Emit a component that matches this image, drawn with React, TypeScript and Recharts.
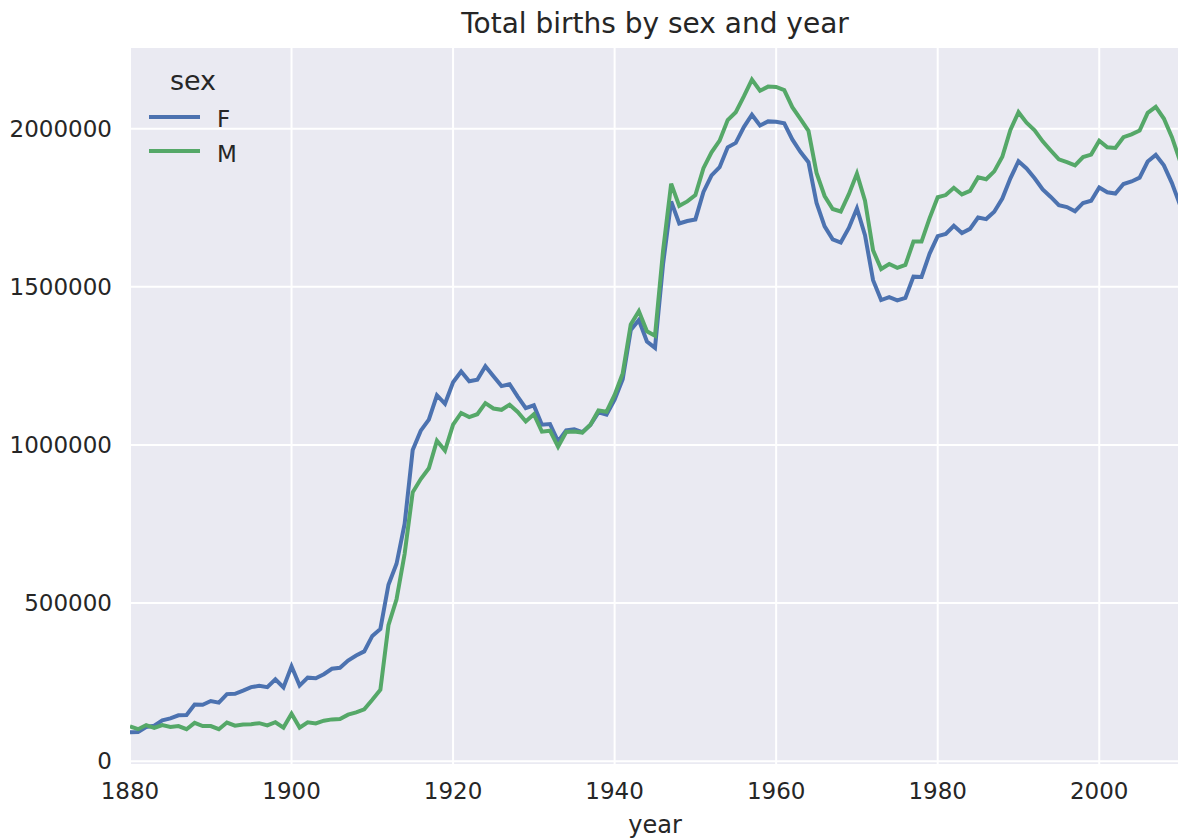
import React from "react";
import { LineChart, Line, CartesianGrid, XAxis, YAxis, Label } from "recharts";

// total births, 1880..2010 (one value per year)
const startYear = 1880;

const femaleBirths = [
  91000, 92000, 108000, 112000, 129000, 135000, 145000, 146000, 179000, 178000,
  190000, 185000, 212000, 213000, 223000, 234000, 238000, 234000, 259000, 233000,
  300000, 239000, 264000, 262000, 275000, 292000, 295000, 318000, 334000, 347000,
  396000, 418000, 558000, 624000, 750000, 984000, 1045000, 1080000, 1157000, 1130000,
  1198000, 1232000, 1201000, 1206000, 1249000, 1217000, 1186000, 1192000, 1153000, 1116000,
  1125000, 1064000, 1066000, 1011000, 1046000, 1049000, 1040000, 1063000, 1103000, 1096000,
  1143000, 1208000, 1363000, 1395000, 1327000, 1307000, 1572000, 1770000, 1700000, 1708000,
  1713000, 1800000, 1852000, 1878000, 1941000, 1955000, 2005000, 2044000, 2010000, 2023000,
  2022000, 2017000, 1966000, 1927000, 1894000, 1765000, 1691000, 1650000, 1640000, 1686000,
  1748000, 1663000, 1521000, 1458000, 1467000, 1457000, 1465000, 1532000, 1531000, 1605000,
  1660000, 1667000, 1693000, 1670000, 1683000, 1719000, 1714000, 1737000, 1779000, 1843000,
  1897000, 1874000, 1843000, 1808000, 1784000, 1758000, 1752000, 1739000, 1765000, 1772000,
  1814000, 1799000, 1795000, 1825000, 1833000, 1845000, 1896000, 1917000, 1884000, 1828000,
  1759000,
];

const maleBirths = [
  110000, 101000, 114000, 105000, 114000, 108000, 111000, 101000, 121000, 111000,
  111000, 101000, 122000, 112000, 116000, 117000, 120000, 113000, 123000, 106000,
  150000, 106000, 123000, 119000, 128000, 132000, 133000, 147000, 154000, 164000,
  194000, 226000, 430000, 512000, 655000, 850000, 892000, 926000, 1013000, 982000,
  1064000, 1101000, 1088000, 1097000, 1132000, 1115000, 1111000, 1127000, 1104000, 1074000,
  1097000, 1042000, 1045000, 994000, 1041000, 1042000, 1039000, 1064000, 1109000, 1105000,
  1158000, 1226000, 1381000, 1423000, 1359000, 1345000, 1614000, 1826000, 1756000, 1770000,
  1790000, 1875000, 1925000, 1962000, 2027000, 2052000, 2102000, 2155000, 2120000, 2133000,
  2132000, 2122000, 2068000, 2031000, 1993000, 1860000, 1787000, 1746000, 1738000, 1793000,
  1858000, 1772000, 1615000, 1556000, 1572000, 1560000, 1569000, 1643000, 1643000, 1717000,
  1783000, 1790000, 1813000, 1792000, 1803000, 1846000, 1840000, 1865000, 1911000, 1996000,
  2052000, 2019000, 1995000, 1960000, 1931000, 1903000, 1894000, 1884000, 1910000, 1918000,
  1962000, 1941000, 1939000, 1973000, 1982000, 1994000, 2050000, 2069000, 2032000, 1973000,
  1898000,
];

const seriesNames = ["F", "M"];
const xTicks = [1880, 1900, 1920, 1940, 1960, 1980, 2000];
const yTicks = [0, 500000, 1000000, 1500000, 2000000];

const data = femaleBirths.map((f, i) => ({
  year: startYear + i,
  F: f,
  M: maleBirths[i],
}));

const FONT = "'DejaVu Sans', sans-serif";
const TEXT = "#262626";
const BLUE = "#4C72B0";
const GREEN = "#55A868";
const colors = [BLUE, GREEN];

const XTick = (props: any) => (
  <text x={props.x} y={props.y} dy={26} textAnchor="middle" fontFamily={FONT} fontSize={23} fill={TEXT}>
    {props.payload.value}
  </text>
);

const YTick = (props: any) => (
  <text x={props.x} y={props.y} dx={-10} dy={8} textAnchor="end" fontFamily={FONT} fontSize={23} fill={TEXT}>
    {String(props.payload.value)}
  </text>
);

// seaborn-style legend box in the upper left of the axes
const LegendBox = () => (
  <svg width={130} height={130} style={{ position: "absolute", left: 130, top: 47 }}>
    <text x={63} y={43} textAnchor="middle" fontFamily={FONT} fontSize={27} fill={TEXT}>
      sex
    </text>
    {seriesNames.map((name, i) => (
      <g key={name}>
        <line x1={19} x2={70} y1={70 + i * 34} y2={70 + i * 34} stroke={colors[i]} strokeWidth={4} />
        <text x={87} y={80 + i * 35} fontFamily={FONT} fontSize={23} fill={TEXT}>
          {name}
        </text>
      </g>
    ))}
  </svg>
);

export default function App() {
  return (
    <div
      style={{
        position: "absolute",
        left: 0,
        top: 0,
        width: 1178,
        height: 839,
        overflow: "hidden",
        background: "#ffffff",
      }}
    >
      <svg width={1178} height={46} style={{ position: "absolute", left: 0, top: 0 }}>
        <text x={655} y={33} textAnchor="middle" fontFamily={FONT} fontSize={28} fill={TEXT}>
          Total births by sex and year
        </text>
      </svg>
      <LineChart
        width={1180}
        height={839}
        data={data}
        margin={{ top: 47, right: 0, left: 0, bottom: 0 }}
      >
        <CartesianGrid fill="#EAEAF2" stroke="#ffffff" strokeWidth={2} />
        <XAxis
          dataKey="year"
          type="number"
          domain={[1880, 2010]}
          ticks={xTicks}
          height={74}
          axisLine={false}
          tickLine={false}
          tick={<XTick />}
          allowDataOverflow
        >
          <Label
            value="year"
            position="insideBottom"
            offset={6}
            style={{ fontFamily: FONT, fontSize: 24, fill: TEXT }}
          />
        </XAxis>
        <YAxis
          type="number"
          domain={[-12200, 2258200]}
          ticks={yTicks}
          width={130}
          axisLine={false}
          tickLine={false}
          tick={<YTick />}
          allowDataOverflow
        />
        <Line type="linear" dataKey="F" stroke={BLUE} strokeWidth={4} dot={false} isAnimationActive={false} />
        <Line type="linear" dataKey="M" stroke={GREEN} strokeWidth={4} dot={false} isAnimationActive={false} />
      </LineChart>
      <LegendBox />
    </div>
  );
}
